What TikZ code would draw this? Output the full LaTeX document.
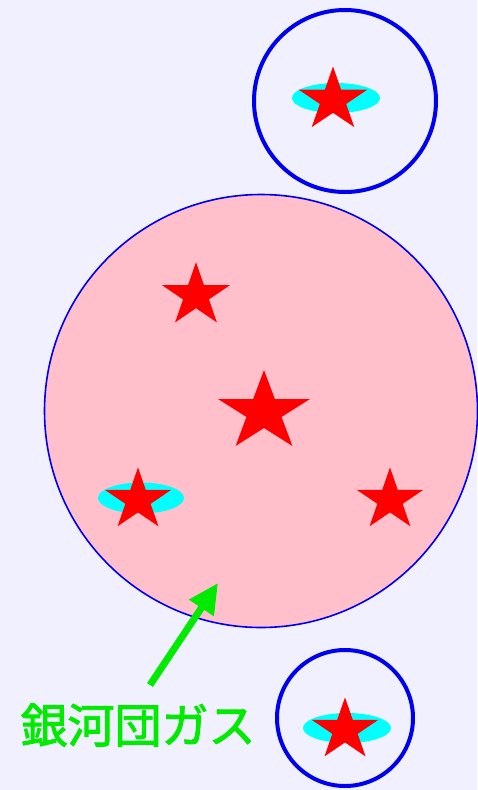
\documentclass[tikz,border=0pt]{standalone}
\usepackage{fontspec}
\newfontfamily\cjk[FakeBold=2]{Noto Sans CJK JP}
\usetikzlibrary{arrows.meta}
\definecolor{bgc}{RGB}{240,240,255}
\definecolor{pinkc}{RGB}{255,192,203}
\definecolor{limec}{RGB}{0,235,0}
\definecolor{bluec}{RGB}{0,0,240}
\definecolor{cyanc}{RGB}{0,255,255}
\newcommand\drawstar[4]{%
  \fill[red,shift={(#1,#2)},xscale=#4]
   (270:#3) -- (306:#3*0.382) -- (342:#3) -- (18:#3*0.382) -- (54:#3) --
   (90:#3*0.382) -- (126:#3) -- (162:#3*0.382) -- (198:#3) -- (234:#3*0.382) -- cycle;}
\tikzset{
  smallcirc/.style={draw=bluec,line width=4pt},
  bigcirc/.style={draw=bluec,line width=1.6pt,fill=pinkc},
  halo/.style={fill=cyanc},
}
\begin{document}
\begin{tikzpicture}[x=1pt,y=-1pt]
\fill[bgc] (0,0) rectangle (477,790);
\useasboundingbox (0,0) rectangle (477,790);
% top circle
\draw[smallcirc] (345,101) circle (91);
\fill[halo] (336,98) ellipse (44 and 15);
\drawstar{333}{100}{33.5}{1.08}
% big circle
\draw[bigcirc] (261,411) circle (216.5);
\drawstar{196}{295.5}{33.3}{1.07}
\drawstar{264}{412}{42}{1.15}
\fill[halo] (141,498) ellipse (43 and 15.5);
\drawstar{138}{500}{32.5}{1.07}
\drawstar{390}{500}{32.5}{1.07}
% bottom circle
\draw[smallcirc] (345,718) circle (68);
\fill[halo] (347,728) ellipse (44 and 15);
\drawstar{345}{730}{32.6}{1.07}
% label and arrow
\node[text=limec,font=\cjk\fontsize{47}{50}\selectfont,inner sep=0pt] (lbl) at (138,725) {銀河団ガス};
\coordinate (as) at (150,685);
\coordinate (ae) at (218,583);
\draw[limec,line width=7pt,-{Triangle[length=30pt,width=28pt]}] (as) -- (ae);
\end{tikzpicture}
\end{document}
